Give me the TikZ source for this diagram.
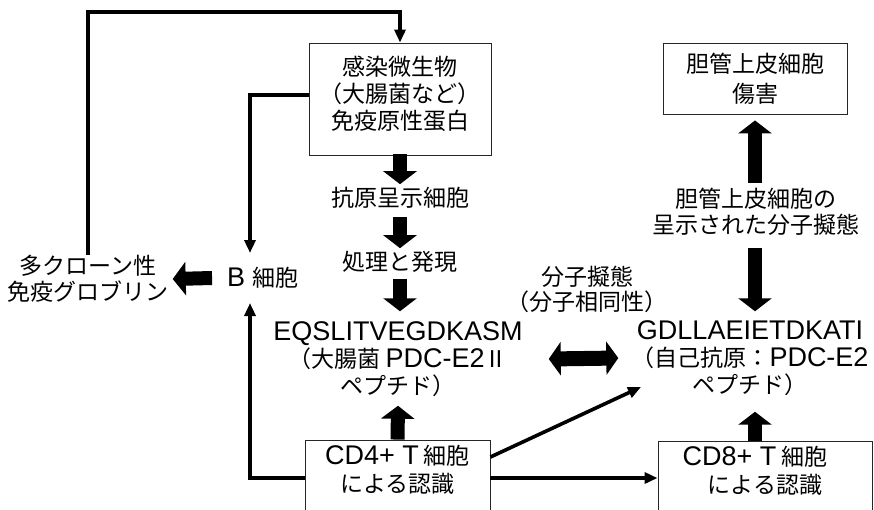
\documentclass[tikz,border=0pt]{standalone}
\usepackage{fontspec}
\setmainfont{Noto Sans CJK JP}
\newfontfamily\latf{Liberation Sans}
\newcommand\LA[1]{{\latf\fontsize{27}{28}\selectfont #1}}
\usetikzlibrary{arrows.meta,calc}
\begin{document}
\begin{tikzpicture}[x=1pt,y=-1pt,
  txt/.style={font=\fontsize{23}{27}\selectfont, align=center, inner sep=0pt},
  box/.style={txt, draw=black!85, line width=0.9pt},
  thinarr/.style={line width=3.6pt, -{Triangle[length=13pt,width=11pt]}},
  blk/.style={line width=14pt, -{Triangle[length=13pt,width=33pt]}},
  dblk/.style={line width=15pt, {Triangle[length=12pt,width=33pt]}-{Triangle[length=12pt,width=33pt]}}
]
\useasboundingbox (0,0) rectangle (874,509);
\fill[white] (0,0) rectangle (874,509);

% nodes
\node[box, minimum width=182pt, minimum height=112pt] (inf) at (400,99)
  {感染微生物\\（大腸菌など）\\免疫原性蛋白\\[-15pt]\mbox{}};
\node[txt] (apc) at (400,198) {抗原呈示細胞};
\node[txt] (proc) at (400,262) {処理と発現};
\node[txt] (ecoli) at (398,359)
  {\LA{EQSLITVEGDKASM}\\（大腸菌 \LA{PDC-E2}Ⅱ\\ペプチド）};
\node[box, font=\fontsize{23}{28}\selectfont, minimum width=185pt, minimum height=110pt] (cd4) at (397.5,495)
  {\LA{CD4+ T} 細胞\\による認識\\[25pt]\mbox{}};
\node[txt] (bcell) at (263,278) {\LA{B }細胞};
\node[txt, font=\fontsize{23}{26}\selectfont] (poly) at (88,279) {多クローン性\\免疫グロブリン};
\node[txt, font=\fontsize{23}{25}\selectfont] (sim) at (587,289) {分子擬態\\（分子相同性）};
\node[box, font=\fontsize{23}{30}\selectfont, minimum width=184pt, minimum height=71pt] (bile) at (755,78.5)
  {胆管上皮細胞\\傷害};
\node[txt, font=\fontsize{23}{26}\selectfont] (mimic) at (756,212) {胆管上皮細胞の\\呈示された分子擬態};
\node[txt] (self) at (750,358)
  {\LA{GDLLAEIETDKATI}\\（自己抗原：\LA{PDC-E2}\\ペプチド）};
\node[box, font=\fontsize{23}{28}\selectfont, minimum width=214pt, minimum height=110pt] (cd8) at (765,496)
  {\LA{CD8+ T} 細胞\hspace*{20pt}\\による認識\hspace*{20pt}\\[25pt]\mbox{}};

% coordinates for free ends
\coordinate (tl) at (88,12);
\coordinate (btop) at (250,253);
\coordinate (bbot) at (250,303);
\coordinate (selfin) at (641,387);
\coordinate (hline) at (0,478);

% thin connectors
\draw[thinarr] (poly.north) -- (tl) -| (inf.north);
\draw[thinarr] ($(inf.west)+(0,-4)$) -| (btop);
\draw[thinarr] (cd4.west |- hline) -| (bbot);
\draw[thinarr] ($(cd4.east |- hline)+(0,-21)$) -- (selfin);
\draw[thinarr] (cd4.east |- hline) -- (cd8.west |- hline);

% block arrows
\draw[blk] ($(inf.south)+(0,-1)$) -- ($(apc.north)+(0,-3)$);
\draw[blk] ($(apc.south)+(0,8)$) -- ($(proc.north)+(0,-3)$);
\draw[blk] ($(proc.south)+(0,6)$) -- ($(proc.south |- ecoli.north)+(0,-10)$);
\draw[blk] (cd4.north) -- ($(ecoli.south)+(0,9)$);
\draw[blk] ($(bcell.west)+(-15,0)$) -- ($(poly.east)+(4,0)$);
\draw[dblk] ($(ecoli.east)+(26,0)$) -- ($(self.west)+(-13,0)$);
\draw[blk] ($(mimic.north -| bile.south)+(0,-5)$) -- ($(bile.south)+(0,6)$);
\draw[blk] ($(mimic.south -| bile.south)+(0,12)$) -- ($(self.north -| bile.south)+(0,-9)$);
\draw[blk] (cd8.north -| bile.south) -- ($(self.south -| bile.south)+(0,16)$);
\end{tikzpicture}
\end{document}
